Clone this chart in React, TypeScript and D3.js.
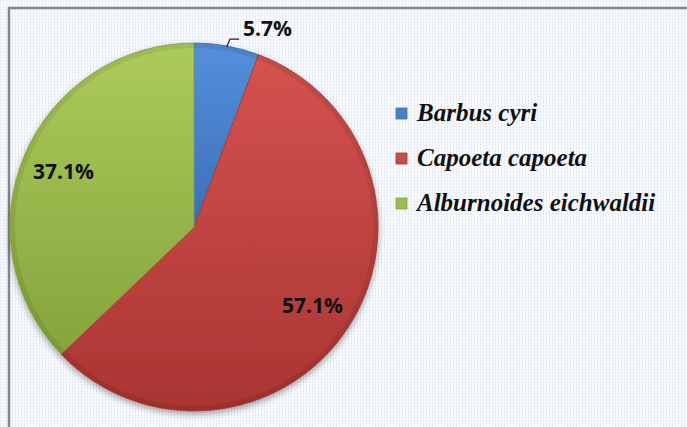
import React, { useEffect, useRef } from 'react';
import * as d3 from 'd3';

const species = ['Barbus cyri', 'Capoeta capoeta', 'Alburnoides eichwaldii'];
const shares = [5.7, 57.1, 37.1];
const labels = ['5.7%', '57.1%', '37.1%'];
const topColors = ['#5590dc', '#d4534f', '#accb5c'];
const bottomColors = ['#3a6fb6', '#a93532', '#86a43c'];
const swatchColors = ['#4a7fc4', '#c0504d', '#9bbb59'];

const App = () => {
  const svgRef = useRef<SVGSVGElement>(null);

  useEffect(() => {
    const svg = d3.select(svgRef.current);
    svg.selectAll('*').remove();

    const width = 687;
    const height = 427;
    const cx = 194;
    const cy = 227;
    const r = 184;

    const defs = svg.append('defs');

    // Dotted background texture
    const pat = defs.append('pattern')
      .attr('id', 'bgpat')
      .attr('width', 3)
      .attr('height', 3)
      .attr('patternUnits', 'userSpaceOnUse');
    pat.append('rect').attr('width', 3).attr('height', 3).attr('fill', '#f7f9fc');
    pat.append('rect').attr('width', 1).attr('height', 2).attr('fill', '#dfe8f3');

    // Slice gradients
    species.forEach((_, i) => {
      const g = defs.append('linearGradient')
        .attr('id', `grad${i}`)
        .attr('x1', 0).attr('y1', 0).attr('x2', 0).attr('y2', 1);
      g.append('stop').attr('offset', '0%').attr('stop-color', topColors[i]);
      g.append('stop').attr('offset', '100%').attr('stop-color', bottomColors[i]);
    });

    const shadow = defs.append('filter')
      .attr('id', 'shadow')
      .attr('x', '-20%').attr('y', '-20%').attr('width', '140%').attr('height', '140%');
    shadow.append('feDropShadow')
      .attr('dx', 0).attr('dy', 3)
      .attr('stdDeviation', 3)
      .attr('flood-color', '#000')
      .attr('flood-opacity', 0.35);

    // Background + frame
    svg.append('rect')
      .attr('width', width).attr('height', height)
      .attr('fill', 'url(#bgpat)');
    svg.append('path')
      .attr('d', `M9,${height + 5} L9,8 L${width + 5},8`)
      .attr('fill', 'none')
      .attr('stroke', '#878787')
      .attr('stroke-width', 2.5);

    const pie = d3.pie<number>().sort(null).value(d => d);
    const arcs = pie(shares);
    const arc = d3.arc<d3.PieArcDatum<number>>().innerRadius(0).outerRadius(r);
    const bevel = d3.arc<d3.PieArcDatum<number>>().innerRadius(r - 5).outerRadius(r);
    const labelArc = d3.arc<d3.PieArcDatum<number>>().innerRadius(142).outerRadius(142);

    const gPie = svg.append('g')
      .attr('transform', `translate(${cx},${cy})`);

    gPie.append('g')
      .attr('filter', 'url(#shadow)')
      .selectAll('path')
      .data(arcs)
      .enter()
      .append('path')
      .attr('d', arc)
      .attr('fill', (d, i) => `url(#grad${i})`)
      .attr('stroke', (d, i) => bottomColors[i])
      .attr('stroke-width', 0.8);

    // Soft bevel along the rim
    gPie.selectAll('.bevel')
      .data(arcs)
      .enter()
      .append('path')
      .attr('class', 'bevel')
      .attr('d', bevel)
      .attr('fill', '#000')
      .attr('opacity', 0.08);

    // Inside labels
    gPie.selectAll('.lbl')
      .data(arcs.slice(1))
      .enter()
      .append('text')
      .attr('class', 'lbl')
      .attr('transform', d => `translate(${labelArc.centroid(d)})`)
      .attr('text-anchor', 'middle')
      .attr('dy', '0.36em')
      .style('font-family', 'Open Sans, sans-serif')
      .style('font-weight', 700)
      .style('font-size', '21px')
      .style('fill', '#111')
      .text((d, i) => labels[i + 1]);

    // Outside label for the small slice, with leader line
    const small = arcs[0];
    const mid = (small.startAngle + small.endAngle) / 2;
    const p0: [number, number] = [Math.sin(mid) * (r - 1), -Math.cos(mid) * (r - 1)];
    const p1: [number, number] = [Math.sin(mid) * (r + 7) + 2, -Math.cos(mid) * (r + 7)];
    const p2: [number, number] = [p1[0] + 9, p1[1]];
    gPie.append('polyline')
      .attr('points', [p0, p1, p2].map(p => p.join(',')).join(' '))
      .attr('fill', 'none')
      .attr('stroke', '#222')
      .attr('stroke-width', 1.2);
    gPie.append('text')
      .attr('x', p2[0] + 4)
      .attr('y', p2[1] - 3)
      .style('font-family', 'Open Sans, sans-serif')
      .style('font-weight', 700)
      .style('font-size', '21px')
      .style('fill', '#111')
      .text(labels[0]);

    // Legend
    const legend = svg.append('g').attr('transform', 'translate(396,113)');
    const item = legend.selectAll('g')
      .data(species)
      .enter()
      .append('g')
      .attr('transform', (d, i) => `translate(0,${i * 45})`);
    item.append('rect')
      .attr('x', 0).attr('y', -5)
      .attr('width', 11).attr('height', 11)
      .attr('fill', (d, i) => swatchColors[i])
      .attr('stroke', (d, i) => bottomColors[i])
      .attr('stroke-width', 0.8);
    item.append('text')
      .attr('x', 21)
      .attr('y', 8)
      .style('font-family', 'Liberation Serif, Times New Roman, serif')
      .style('font-style', 'italic')
      .style('font-weight', 700)
      .style('font-size', '25px')
      .style('fill', '#111')
      .text(d => d);
  }, []);

  return (
    <div style={{ position: 'absolute', left: 0, top: 0 }}>
      <svg ref={svgRef} width={687} height={427} style={{ display: 'block' }}></svg>
    </div>
  );
};

export default App;
